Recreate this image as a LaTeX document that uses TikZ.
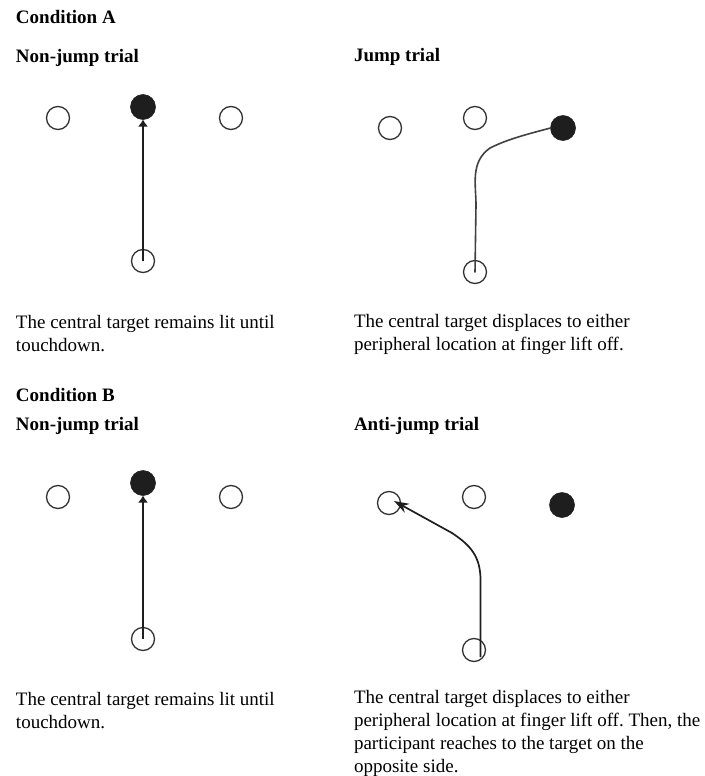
\documentclass[tikz,border=0pt]{standalone}
\usepackage{fontspec}
\setmainfont{Liberation Serif}
\usetikzlibrary{arrows.meta}
\definecolor{ink}{HTML}{1E1E1E}
\definecolor{stroke}{HTML}{333333}
\frenchspacing
\begin{document}
\begin{tikzpicture}[x=1pt,y=-1pt,
  every node/.style={inner sep=0pt, outer sep=0pt},
  txt/.style={anchor=base west, align=left, font=\fontsize{19}{23}\selectfont, text=black},
  head/.style={txt, font=\fontsize{19}{23}\selectfont\bfseries},
  target/.style={circle, draw=stroke, line width=1.3pt, minimum size=23pt, fill=white},
  lit/.style={circle, draw=ink, fill=ink, line width=0.6pt, minimum size=25pt},
  reach/.style={draw=ink, line width=1.7pt},
  path/.style={draw=black!75, line width=1.6pt, line cap=round}
]
\useasboundingbox (0,0) rectangle (704,776);

% ---------- Condition A ----------
\node[head] (condA) at (16,24) {Condition A};
\node[head] (njA) at (16,63) {Non-jump trial};
\node[head] (jA) at (354,62) {Jump trial};

\node[target] (aL) at (58,118) {};
\node[lit]    (aC) at (143,107) {};
\node[target] (aR) at (231,118) {};
\node[target] (aS) at (143,261) {};
\draw[reach, -{Latex[length=7pt,width=10pt]}] (aS.center) -- (aC.south);

\node[target] (jL) at (390,128) {};
\node[target] (jC) at (475,118) {};
\node[lit]    (jR) at (563,128) {};
\node[target] (jS) at (475,272) {};
\coordinate (j1) at (476,205);
\coordinate (j2) at (490,148);
\draw[path] (jS.center) -- (j1) .. controls (476,185) and (470,162) .. (j2)
  .. controls (508,139) and (528,134) .. (jR.west);

\node[txt] (dA1) at (16,351) {The central target remains lit until\\touchdown.};
\node[txt] (dA2) at (354,350) {The central target displaces to either\\peripheral location at finger lift off.};

% ---------- Condition B ----------
\node[head] (condB) at (16,401) {Condition B};
\node[head] (njB) at (16,430) {Non-jump trial};
\node[head] (ajB) at (354,430) {Anti-jump trial};

\node[target] (bL) at (58,497) {};
\node[lit]    (bC) at (143,483) {};
\node[target] (bR) at (231,497) {};
\node[target] (bS) at (143,639) {};
\draw[reach, -{Latex[length=7pt,width=10pt]}] (bS.center) -- (bC.south);

\node[target] (kL) at (389,503) {};
\node[target] (kC) at (474,497) {};
\node[lit]    (kR) at (562,505) {};
\node[target] (kS) at (474,650) {};
\coordinate (k0) at (480.5,657);
\coordinate (k1) at (480.5,580);
\coordinate (k2) at (452,533);
\coordinate (k3) at (394,501);
\draw[reach, -{Stealth[length=15pt,width=10pt]}] (k0) -- (k1)
  .. controls (480.5,556) and (470,545) .. (k2) -- (k3);

\node[txt] (dB1) at (16,728) {The central target remains lit until\\touchdown.};
\node[txt] (dB2) at (354,772) {The central target displaces to either\\peripheral location at finger lift off. Then, the\\participant reaches to the target on the\\opposite side.};
\end{tikzpicture}
\end{document}
